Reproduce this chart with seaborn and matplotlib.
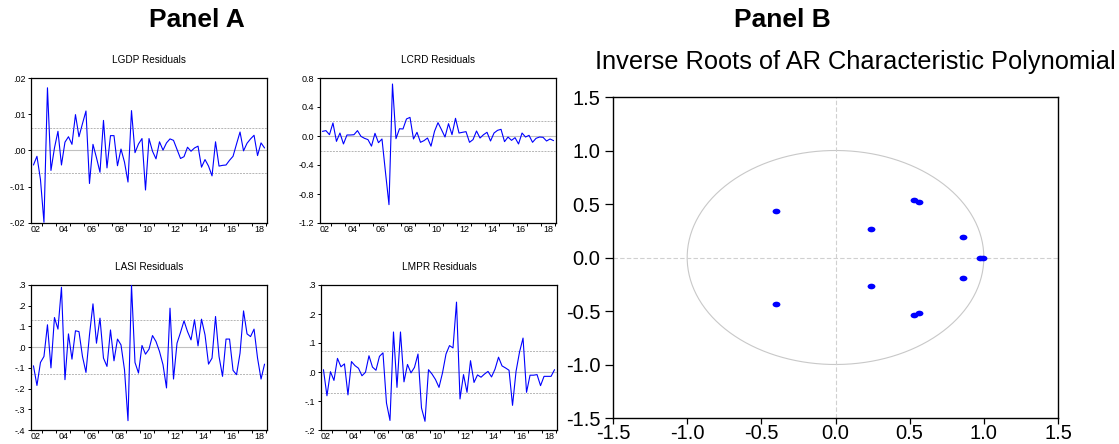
import numpy as np
import pandas as pd
import matplotlib
matplotlib.use("Agg")
import matplotlib.pyplot as plt
import seaborn as sns
from matplotlib import font_manager
from matplotlib.path import Path
from matplotlib.transforms import Affine2D
from matplotlib.ticker import FixedLocator, FuncFormatter, NullFormatter

# ---------------- data ----------------
start_year = 2002   # first observation 2002Q2, last 2018Q4
lgdp = [-0.0040, -0.0016, -0.0080, -0.0198, 0.0173, -0.0055, 0.0007, 0.0053, -0.0040, 0.0023,
        0.0038, 0.0017, 0.0099, 0.0038, 0.0074, 0.0109, -0.0091, 0.0017, -0.0020, -0.0060,
        0.0083, -0.0048, 0.0041, 0.0041, -0.0042, 0.0004, -0.0032, -0.0087, 0.0110, -0.0006,
        0.0018, 0.0033, -0.0109, 0.0033, -0.0002, -0.0023, 0.0024, 0.0001, 0.0021, 0.0032,
        0.0028, 0.0003, -0.0022, -0.0017, 0.0009, -0.0002, 0.0007, 0.0012, -0.0046, -0.0025,
        -0.0043, -0.0070, 0.0024, -0.0043, -0.0041, -0.0040, -0.0027, -0.0016, 0.0018, 0.0051,
        -0.0001, 0.0020, 0.0032, 0.0042, -0.0014, 0.0021, 0.0007]
lcrd = [0.064, 0.074, 0.018, 0.18, -0.074, 0.041, -0.11, 0.014, 0.014, 0.018,
        0.074, -0.005, -0.032, -0.05, -0.14, 0.037, -0.092, -0.041, -0.50, -0.947,
        0.717, -0.037, 0.10, 0.097, 0.235, 0.257, -0.041, 0.051, -0.087, -0.064,
        -0.028, -0.14, 0.064, 0.184, 0.087, -0.014, 0.17, 0.018, 0.244, 0.041,
        0.051, 0.06, -0.087, -0.05, 0.069, -0.028, 0.018, 0.051, -0.069, 0.041,
        0.078, 0.092, -0.078, -0.014, -0.06, -0.023, -0.11, 0.041, -0.014, 0.009,
        -0.087, -0.032, -0.014, -0.018, -0.069, -0.041, -0.064]
lasi = [-0.09, -0.185, -0.074, -0.045, 0.108, -0.10, 0.143, 0.087, 0.289, -0.157,
        0.064, -0.058, 0.079, 0.075, -0.045, -0.122, 0.059, 0.209, 0.019, 0.14,
        -0.053, -0.093, 0.083, -0.066, 0.039, 0.011, -0.109, -0.355, 0.30, -0.074,
        -0.125, 0.008, -0.034, -0.01, 0.056, 0.027, -0.021, -0.085, -0.197, 0.188,
        -0.154, 0.019, 0.071, 0.127, 0.075, 0.035, 0.132, 0.006, 0.135, 0.059,
        -0.082, -0.053, 0.148, -0.045, -0.141, 0.039, 0.039, -0.112, -0.133, -0.029,
        0.175, 0.064, 0.051, 0.087, -0.053, -0.154, -0.082]
lmpr = [0.008, -0.082, 0.001, -0.029, 0.047, 0.018, 0.028, -0.079, 0.036, 0.022,
        0.013, -0.013, -0.001, 0.056, 0.017, 0.006, 0.054, 0.066, -0.107, -0.167,
        0.138, -0.053, 0.138, -0.034, 0.026, -0.003, 0.016, 0.062, -0.124, -0.17,
        0.008, -0.007, -0.026, -0.053, -0.003, 0.062, 0.091, 0.083, 0.241, -0.093,
        -0.009, -0.07, 0.039, -0.036, -0.01, -0.018, -0.007, 0.002, -0.017, 0.01,
        0.051, 0.021, 0.014, 0.006, -0.115, 0.002, 0.069, 0.117, -0.07, -0.011,
        -0.011, -0.009, -0.047, -0.015, -0.015, -0.015, 0.008]
bands = {"LGDP": 0.0062, "LCRD": 0.21, "LASI": 0.13, "LMPR": 0.074}
year_labels = ["02", "04", "06", "08", "10", "12", "14", "16", "18"]

root_re = [-0.40, -0.40, 0.242, 0.242, 0.526, 0.526, 0.564, 0.564, 0.857, 0.857, 0.972, 0.995]
root_im = [0.43, -0.43, 0.266, -0.266, 0.535, -0.535, 0.516, -0.516, 0.19, -0.19, 0.0, 0.0]

# ---------------- style ----------------
sns.set_theme(style="ticks")
plt.rcParams["font.family"] = ["Liberation Sans", "DejaVu Sans"]
names = {f.name for f in font_manager.fontManager.ttflist}
if "Liberation Sans Narrow" in names:
    title_font = dict(family=["Liberation Sans Narrow", "Liberation Sans"], fontsize=8.5)
else:
    title_font = dict(family=["Liberation Sans", "DejaVu Sans"], fontsize=7.2)

W, H = 1119, 444
fig = plt.figure(figsize=(W / 100, H / 100), dpi=100)


def rect(x0, y0, x1, y1):
    return [x0 / W, 1 - y1 / H, (x1 - x0) / W, (y1 - y0) / H]


def strip0(fmt):
    def f(v, pos):
        s = fmt.format(v)
        if s.startswith("0."):
            s = s[1:]
        elif s.startswith("-0."):
            s = "-" + s[2:]
        return s
    return f


series = [
    ("LGDP", lgdp, rect(31, 78, 267, 223), (-0.02, 0.02), [-0.02, -0.01, 0.0, 0.01, 0.02], strip0("{:.2f}")),
    ("LCRD", lcrd, rect(320, 78, 556, 223), (-1.2, 0.8), [-1.2, -0.8, -0.4, 0.0, 0.4, 0.8], lambda v, p: f"{v:.1f}"),
    ("LASI", lasi, rect(31, 285, 267, 430), (-0.4, 0.3), [-0.4, -0.3, -0.2, -0.1, 0.0, 0.1, 0.2, 0.3], strip0("{:.1f}")),
    ("LMPR", lmpr, rect(321, 285, 557, 430), (-0.2, 0.3), [-0.2, -0.1, 0.0, 0.1, 0.2, 0.3], strip0("{:.1f}")),
]

n = len(lgdp)
idx = np.arange(n)
years = list(range(2002, 2019))
bound_pos = [(y - start_year) * 4 - 1.5 for y in years] + [66.5]
label_pos = [(int("20" + l) - start_year) * 4 + 0.5 for l in year_labels]

for name, vals, r, ylim, yt, fmt in series:
    ax = fig.add_axes(r)
    df = pd.DataFrame({"t": idx, "v": vals})
    b = bands[name]
    ax.axhline(0, color="#c0c0c0", lw=0.8, zorder=1)
    ax.axhline(b, color="#b5b5b5", lw=0.7, ls=(0, (2, 1.2)), zorder=1)
    ax.axhline(-b, color="#b5b5b5", lw=0.7, ls=(0, (2, 1.2)), zorder=1)
    sns.lineplot(data=df, x="t", y="v", ax=ax, color="#0000ff", lw=0.8, zorder=3)
    ax.set_xlim(-0.7, 66.7)
    ax.set_ylim(*ylim)
    ax.set_xlabel("")
    ax.set_ylabel("")
    ax.xaxis.set_major_locator(FixedLocator(label_pos))
    ax.xaxis.set_major_formatter(FuncFormatter(lambda v, p: year_labels[p] if p is not None and p < len(year_labels) else ""))
    ax.xaxis.set_minor_locator(FixedLocator(bound_pos))
    ax.xaxis.set_minor_formatter(NullFormatter())
    ax.tick_params(axis="x", which="major", length=0, pad=1.5, labelsize=6.5, colors="black")
    ax.tick_params(axis="x", which="minor", length=2.5, width=0.7, direction="out", color="black")
    ax.yaxis.set_major_locator(FixedLocator(yt))
    ax.yaxis.set_major_formatter(FuncFormatter(fmt))
    ax.tick_params(axis="y", which="major", length=2.5, width=0.7, pad=1.5, labelsize=6.5, colors="black")
    for s in ax.spines.values():
        s.set_color("black")
        s.set_linewidth(0.9)
    ax.set_title(f"{name} Residuals", pad=11, color="black", **title_font)

# ---------------- Panel B ----------------
axb = fig.add_axes(rect(613, 97, 1058, 418))
theta = np.linspace(0, 2 * np.pi, 400)
axb.plot(np.cos(theta), np.sin(theta), color="#c8c8c8", lw=0.8, zorder=1)
axb.axhline(0, color="#d0d0d0", lw=0.8, ls=(0, (4, 2)), zorder=1)
axb.axvline(0, color="#d0d0d0", lw=0.8, ls=(0, (4, 2)), zorder=1)
ell = Path.unit_circle().transformed(Affine2D().scale(1.0, 0.72))
rdf = pd.DataFrame({"re": root_re, "im": root_im})
sns.scatterplot(data=rdf, x="re", y="im", ax=axb, color="#0000ff", marker=ell, s=32,
                edgecolor="#0000ff", linewidth=0, zorder=3)
axb.set_xlim(-1.5, 1.5)
axb.set_ylim(-1.5, 1.5)
axb.set_xlabel("")
axb.set_ylabel("")
ticks_b = [-1.5, -1.0, -0.5, 0.0, 0.5, 1.0, 1.5]
axb.set_xticks(ticks_b)
axb.set_yticks(ticks_b)
axb.xaxis.set_major_formatter(FuncFormatter(lambda v, p: f"{v:.1f}"))
axb.yaxis.set_major_formatter(FuncFormatter(lambda v, p: f"{v:.1f}"))
axb.tick_params(axis="x", length=4, width=0.9, pad=0, labelsize=14.5, colors="black")
axb.tick_params(axis="y", length=6, width=0.9, pad=3, labelsize=14.5, colors="black")
for s in axb.spines.values():
    s.set_color("black")
    s.set_linewidth(1.0)

fig.text(855 / W, 1 - 62 / H, "Inverse Roots of AR Characteristic Polynomial",
         ha="center", va="center", fontsize=18.3, color="black")
fig.text(197 / W, 1 - 20 / H, "Panel A", ha="center", va="center", fontsize=19,
         fontweight="bold", color="black")
fig.text(782 / W, 1 - 20 / H, "Panel B", ha="center", va="center", fontsize=19,
         fontweight="bold", color="black")

fig.savefig("out.png", dpi=100, facecolor="white")
